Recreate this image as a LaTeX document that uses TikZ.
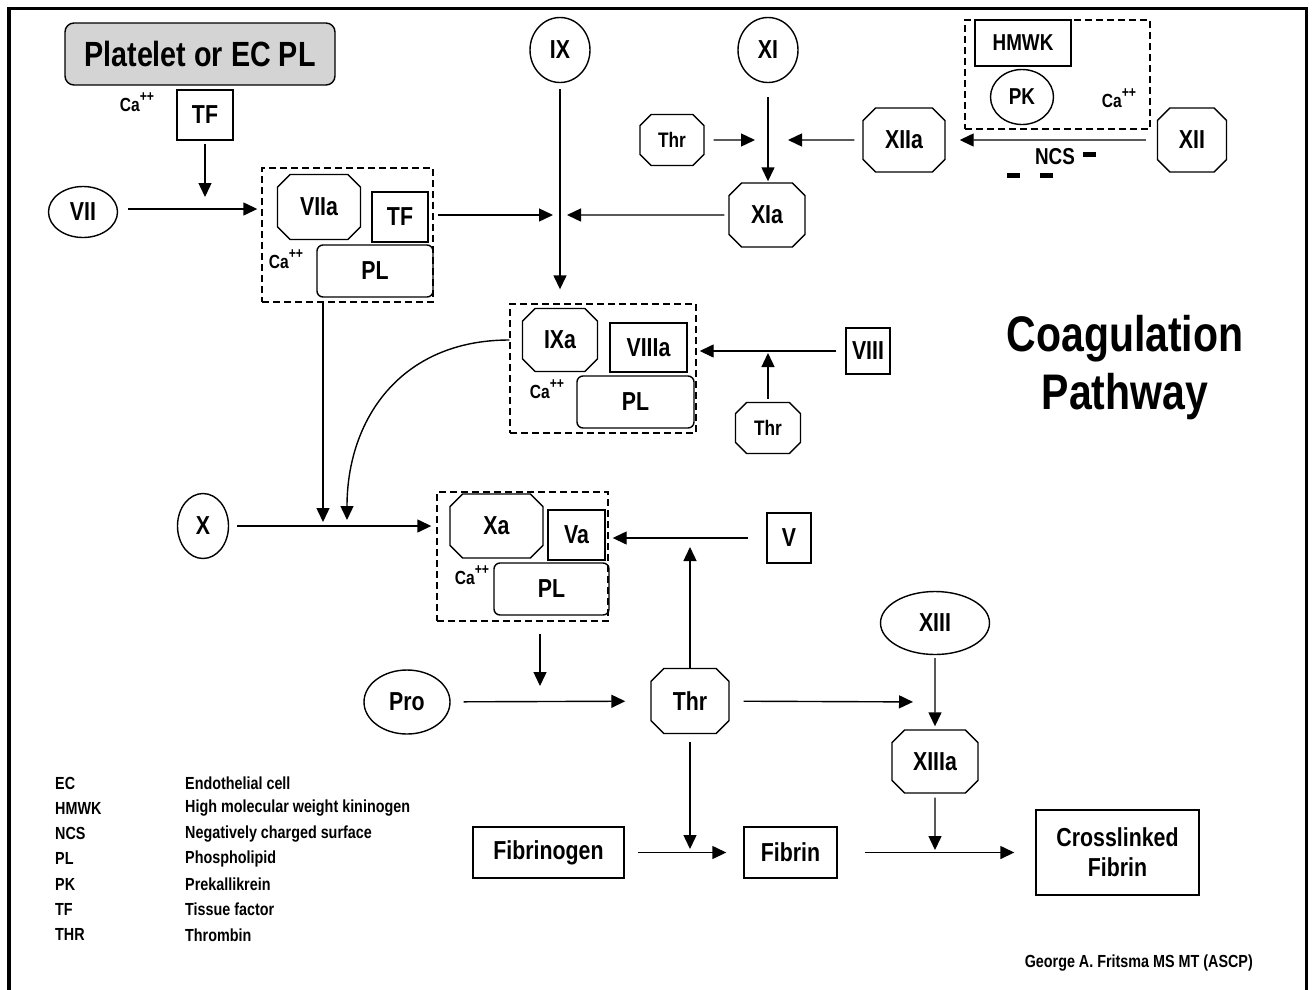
\documentclass[tikz,border=0pt]{standalone}
\usepackage{fontspec}
\setmainfont{Liberation Sans}[FakeStretch=0.82]
\usetikzlibrary{arrows.meta,shapes.geometric,shapes.misc}
\definecolor{cgink}{HTML}{000000}
\definecolor{cgpale}{HTML}{D4D4D4}
\newcommand{\caion}{Ca\raisebox{0.5em}{\fontsize{15}{15}\selectfont ++}}
\tikzset{
  cg text/.style={font=\bfseries, text=cgink},
  cg box/.style={draw=cgink, line width=1.4pt, inner sep=0pt,
    font=\fontsize{26}{30}\selectfont\bfseries},
  cg oval/.style={cg box, ellipse},
  cg oct/.style={cg box, chamfered rectangle, chamfered rectangle xsep=16pt},
  cg lipid/.style={cg box, rounded corners=6pt},
  cg complex/.style={draw=cgink, line width=1.4pt, dash pattern=on 7pt off 4pt,
    inner sep=0pt},
  cg arrow/.style={-{Triangle[length=14pt,width=13pt]}, line width=1.4pt, draw=cgink},
  cg ca/.style={font=\fontsize{19}{21}\selectfont\bfseries, inner sep=0pt},
  cg small/.style={font=\fontsize{23}{26}\selectfont\bfseries},
  cg legend/.style={font=\fontsize{17.5}{20}\selectfont\bfseries, anchor=west, inner sep=0pt}
}

\begin{document}
\begin{tikzpicture}[cg text, x=1pt, y=-1pt]
  \useasboundingbox (0,0) rectangle (1315,989);
  \draw[line width=3.5pt] (9,1000) -- (9,8.5) -- (1306.5,8.5) -- (1306.5,1000);

  % complexes
  \node[cg complex, minimum width=171pt, minimum height=134pt] (cx1) at (347.5,235) {};
  \node[cg complex, minimum width=186pt, minimum height=129pt] (cx2) at (603,368.5) {};
  \node[cg complex, minimum width=171pt, minimum height=129pt] (cx3) at (522.5,556.5) {};
  \node[cg complex, minimum width=185pt, minimum height=109pt] (kcx) at (1057.5,74.5) {};

  % tissue factor path
  \node[cg lipid, fill=cgpale, rounded corners=9pt, minimum width=270pt, minimum height=62pt,
    font=\fontsize{35}{40}\selectfont\bfseries] (plt) at (200,54) {Platelet or EC PL};
  \node[cg box, minimum width=56pt, minimum height=50pt] (tfa) at (205,115) {TF};
  \node[cg ca] (caa) at (137,102) {\caion};
  \node[cg oval, minimum width=69pt, minimum height=51pt] (vii) at (83,212) {VII};
  \node[cg oct, minimum width=83pt, minimum height=65pt] (viia) at (319,207) {VIIa};
  \node[cg box, minimum width=56pt, minimum height=50pt] (tfb) at (400,217) {TF};
  \node[cg lipid, minimum width=116pt, minimum height=52pt] (pla) at (375,271) {PL};
  \node[cg ca] (cab) at (286,259) {\caion};
  \coordinate (jtf) at (205,209);
  \draw[cg arrow, shorten <=3pt, shorten >=12pt] (tfa) -- (jtf);
  \draw[cg arrow, shorten <=10pt, shorten >=4pt] (vii.east |- jtf) -- (jtf -| cx1.west);

  % contact path
  \node[cg oval, minimum width=60pt, minimum height=65pt] (ix) at (560,50) {IX};
  \node[cg oval, minimum width=60pt, minimum height=65pt] (xi) at (768,50) {XI};
  \node[cg oct, minimum width=76pt, minimum height=64pt] (xia) at (767,215) {XIa};
  \node[cg oct, minimum width=64pt, minimum height=51pt, chamfered rectangle xsep=13pt,
    font=\fontsize{21}{24}\selectfont\bfseries] (thra) at (672,140) {Thr};
  \node[cg oct, minimum width=82pt, minimum height=64pt] (xiia) at (904,140) {XIIa};
  \node[cg oct, minimum width=69pt, minimum height=64pt] (xii) at (1192,140) {XII};
  \node[cg box, cg small, minimum width=96pt, minimum height=46pt] (hmwk) at (1023,43) {HMWK};
  \node[cg oval, cg small, minimum width=63pt, minimum height=55pt] (pk) at (1022,97) {PK};
  \node[cg ca] (cac) at (1119,98) {\caion};
  \node[cg small, inner sep=0pt] (ncs) at (1055,157) {NCS};
  \fill (1083,152) rectangle (1096,157);
  \fill (1007,173) rectangle (1020,177.5);
  \fill (1040,173) rectangle (1053,177.5);
  \coordinate (jix) at (560,215);
  \coordinate (jxi) at (768,140);
  \draw[cg arrow, shorten <=4pt, shorten >=7pt] (cx1.east |- jix) -- (jix);
  \draw[cg arrow, shorten <=4pt, shorten >=7pt] (xia) -- (jix);
  \draw[cg arrow, shorten <=6pt, shorten >=14pt] (ix) -- (ix |- cx2.north);
  \draw[cg arrow, shorten <=14pt, shorten >=1pt] (xi) -- (xi |- xia.north);
  \draw[cg arrow, shorten <=9pt, shorten >=13pt] (thra) -- (jxi);
  \draw[cg arrow, shorten <=8pt, shorten >=20pt] (xiia) -- (jxi);
  \draw[cg arrow, shorten <=11pt, shorten >=14pt] (xii) -- (xiia);

  % tenase
  \node[cg oct, minimum width=75pt, minimum height=63pt] (ixa) at (560,340) {IXa};
  \node[cg box, minimum width=77pt, minimum height=49pt] (viiia) at (648.5,347.5) {VIIIa};
  \node[cg lipid, minimum width=117pt, minimum height=52pt] (plb) at (635.5,402) {PL};
  \node[cg ca] (cad) at (547,389) {\caion};
  \node[cg box, minimum width=44pt, minimum height=46pt] (viii) at (868,351) {VIII};
  \node[cg oct, minimum width=65pt, minimum height=51pt, chamfered rectangle xsep=13pt,
    font=\fontsize{21}{24}\selectfont\bfseries] (thrb) at (768,428) {Thr};
  \coordinate (jviii) at (768,351);
  \draw[cg arrow, shorten <=9pt, shorten >=3pt] (viii) -- (viii -| cx2.east);
  \draw[cg arrow, shorten <=3pt, shorten >=2pt] (thrb) -- (jviii);

  % prothrombinase
  \node[cg oval, minimum width=51pt, minimum height=65pt] (x) at (203,526) {X};
  \node[cg oct, minimum width=93pt, minimum height=64pt] (xa) at (496.5,526) {Xa};
  \node[cg box, minimum width=57pt, minimum height=50pt] (va) at (576.5,535) {Va};
  \node[cg lipid, minimum width=115pt, minimum height=52pt] (plc) at (551.5,589) {PL};
  \node[cg ca] (cae) at (472,575) {\caion};
  \node[cg box, minimum width=44pt, minimum height=50pt] (v) at (789,538) {V};
  \coordinate (jxa) at (323,527);
  \coordinate (jxb) at (347,527);
  \coordinate (jv) at (690,538);
  \draw[cg arrow, shorten >=5pt] (cx1.south -| jxa) -- (jxa);
  \draw[cg arrow, shorten >=7pt] (cx2.west |- ixa) .. controls (400,340) and (347,420) .. (jxb);
  \draw[cg arrow, shorten <=8pt, shorten >=5pt] (x) -- (x -| cx3.west);
  \draw[cg arrow, shorten <=18pt, shorten >=4pt] (v) -- (v -| cx3.east);

  % thrombin and fibrin
  \node[cg oval, minimum width=86pt, minimum height=64pt] (pro) at (407,702) {Pro};
  \node[cg oct, minimum width=78pt, minimum height=65pt, chamfered rectangle xsep=18pt] (thrc) at (690,701) {Thr};
  \node[cg oval, minimum width=109pt, minimum height=63pt] (xiii) at (935,623) {XIII};
  \node[cg oct, minimum width=86pt, minimum height=63pt] (xiiia) at (935,761.5) {XIIIa};
  \node[cg box, minimum width=151pt, minimum height=51pt] (fgen) at (548.5,852.5) {Fibrinogen};
  \node[cg box, minimum width=93pt, minimum height=51pt] (fib) at (790.5,852.5) {Fibrin};
  \node[cg box, minimum width=163pt, minimum height=85pt, align=center] (xfib) at (1117.5,852.5) {Crosslinked\\Fibrin};
  \coordinate (jpro) at (540,702);
  \coordinate (jxiii) at (935,702);
  \coordinate (jfib) at (690,852);
  \coordinate (jxfib) at (935,853);
  \draw[cg arrow, shorten >=9pt] (thrc.north -| jv) -- (jv);
  \draw[cg arrow, shorten <=12pt, shorten >=16pt] (cx3.south -| jpro) -- (jpro);
  \draw[cg arrow, shorten <=13pt, shorten >=25pt] (pro) -- (thrc);
  \draw[cg arrow, shorten <=14pt, shorten >=22pt] (thrc) -- (jxiii);
  \draw[cg arrow, shorten <=3pt, shorten >=3pt] (xiii) -- (xiiia);
  \draw[cg arrow, shorten <=4pt, shorten >=3pt] (xiiia) -- (jxfib);
  \draw[cg arrow, shorten <=8pt, shorten >=3pt] (thrc) -- (jfib);
  \draw[cg arrow, shorten <=13pt, shorten >=17pt] (fgen) -- (fib);
  \draw[cg arrow, shorten <=27pt, shorten >=21pt] (fib) -- (xfib);

  % title, legend, credit
  \node[font=\fontsize{50}{58}\selectfont\bfseries, align=center] (title) at (1125,368) {Coagulation\\Pathway};
  \foreach \ab/\txt [count=\k] in {EC/Endothelial cell, HMWK/High molecular weight kininogen,
      NCS/Negatively charged surface, PL/Phospholipid, PK/Prekallikrein, TF/Tissue factor,
      THR/Thrombin} {
    \node[cg legend] (ab\k) at (55,{783+25.3*(\k-1)}) {\ab};
    \node[cg legend] (def\k) at (185,{783+25.3*(\k-1)}) {\txt};
  }
  \node[cg legend, anchor=east] (sig) at (1253,963) {George A. Fritsma MS MT (ASCP)};
\end{tikzpicture}
\end{document}
